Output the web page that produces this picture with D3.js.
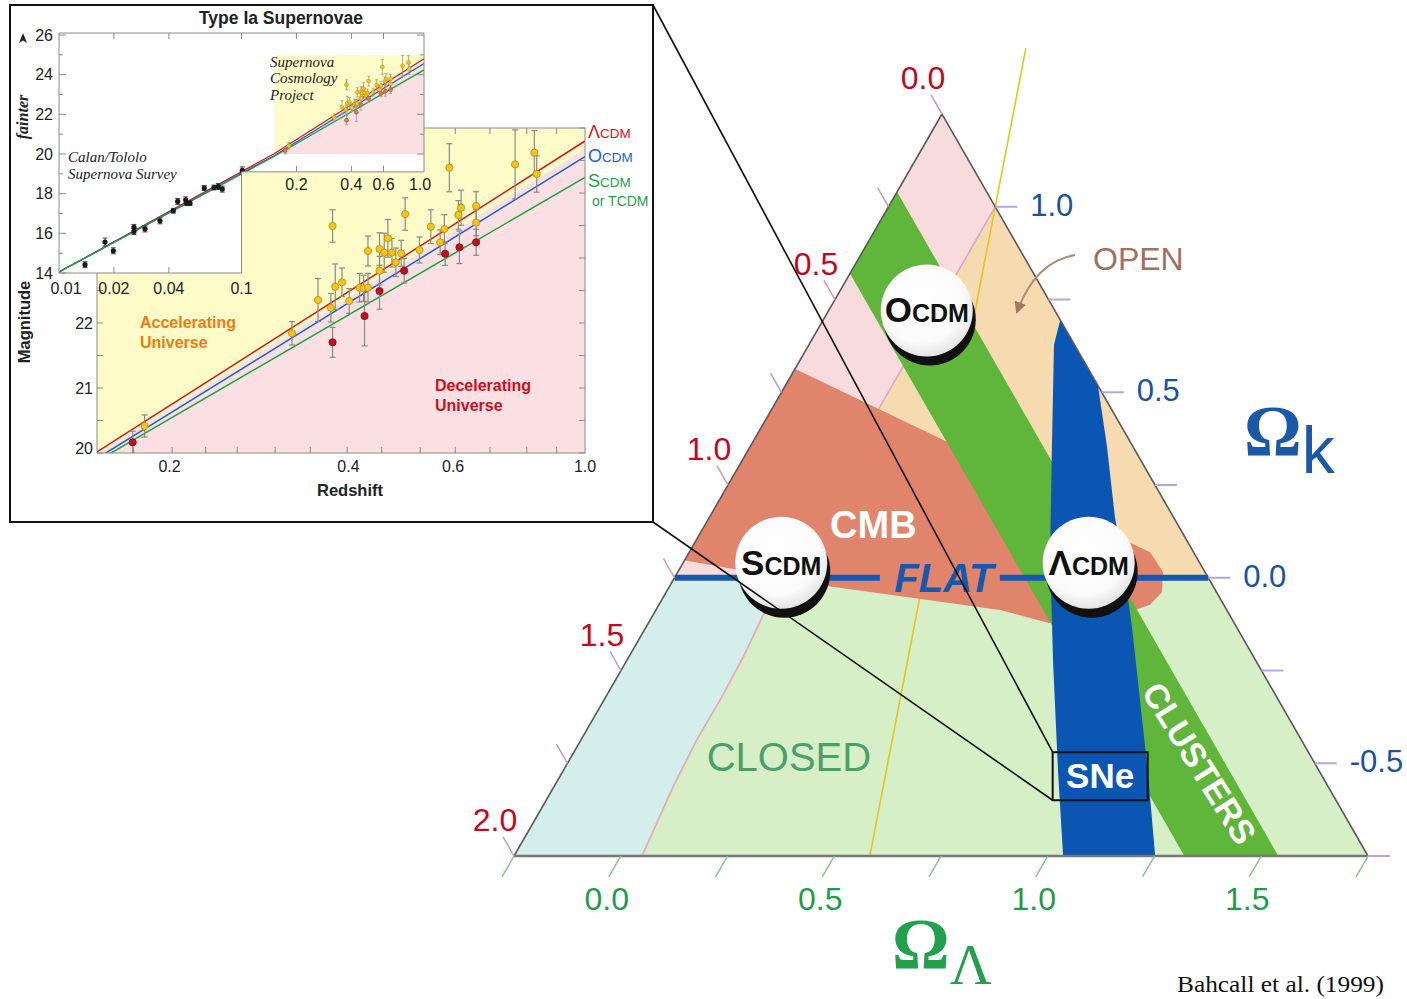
<!DOCTYPE html>
<html>
<head>
<meta charset="utf-8">
<title>Cosmic triangle</title>
<script src="https://cdn.jsdelivr.net/npm/d3@7/dist/d3.min.js"></script>
<style>
  html, body { margin: 0; padding: 0; background: #ffffff; }
  svg { display: block; font-family: "Liberation Sans", Arial, Helvetica, sans-serif; }
</style>
</head>
<body>
<svg id="chart" width="1407" height="999"></svg>
<script>
// ===================== Cosmic triangle data: points are [Ωm, ΩΛ], Ωk = 1 - Ωm - ΩΛ =====================
const omegaMTicks  = [0, 0.25, 0.5, 0.75, 1, 1.25, 1.5, 1.75, 2];
const omegaMLabels = [0, 0.5, 1, 1.5, 2];
const omegaKTicks  = [1, 0.75, 0.5, 0.25, 0, -0.25, -0.5, -0.75];
const omegaKLabels = [1, 0.5, 0, -0.5];
const omegaLTicks  = [-0.25, 0, 0.25, 0.5, 0.75, 1, 1.25, 1.5, 1.75];
const omegaLLabels = [0, 0.5, 1, 1.5];

const modelInitials = ["O", "S", "Λ"];
const modelOmegaM   = [0.32, 1.0, 0.28];
const modelOmegaL   = [0.0, 0.0, 0.72];

const clusterOmegaM = [0.21, 0.43];

const sneRegion = [
  [-0.05, 0.30], [0.0, 0.305], [0.048, 0.324], [0.188, 0.455], [0.34, 0.599], [0.479, 0.753],
  [0.614, 0.912], [0.764, 1.098], [0.545, 1.315], [0.404, 1.123], [0.324, 1.005], [0.245, 0.888],
  [0.171, 0.767], [0.138, 0.701], [0.059, 0.583], [0.0, 0.482], [-0.05, 0.48]
];
const cmbRegion = [
  [0.713, -0.296], [0.4235, 0.214], [0.153, 0.739], [0.102, 0.829], [0.098, 0.886], [0.128, 0.911],
  [0.173, 0.900], [0.257, 0.844], [0.434, 0.688], [0.531, 0.556], [0.904, 0.118], [1.215, -0.265]
];
const recollapseCurve = [
  [1.0, 0.0], [1.092, 0.008], [1.195, 0.018], [1.308, 0.022], [1.416, 0.021],
  [1.534, 0.029], [1.622, 0.040], [1.694, 0.049], [1.75, 0.055]
];
const accelerationLine = [[-0.285, -0.1425], [1.167, 0.5835]];
const flatSegments = [[[1.25, -0.25], [0.769, 0.231]], [[0.488, 0.512], [0.0, 1.0]]];
const openArrow = [[-0.122, 0.252], [-0.02, 0.168], [0.09, 0.193]];

// ===================== Hubble diagram data (redshift z, effective magnitude m_B) =====================
const lowZ   = [0.01388, 0.01787, 0.01984, 0.02576, 0.02576, 0.02960, 0.03575, 0.04229, 0.04471,
                0.04944, 0.05009, 0.05222, 0.06254, 0.07068, 0.07461, 0.07847, 0.1010];
const lowMag = [14.42, 15.56, 15.12, 16.09, 16.30, 16.22, 16.63, 17.14, 17.61,
                17.69, 17.52, 17.52, 18.28, 18.31, 18.36, 18.23, 19.17];
const lowErr = [0.15, 0.2, 0.15, 0.15, 0.15, 0.15, 0.15, 0.12, 0.15,
                0.15, 0.12, 0.12, 0.12, 0.12, 0.15, 0.15, 0.18];

const yellowZ   = [0.1816, 0.3214, 0.3761, 0.3555, 0.3737, 0.3800, 0.3901, 0.4012, 0.4176, 0.4241, 0.4314,
                   0.4314, 0.4511, 0.4511, 0.4594, 0.4660, 0.4733, 0.4806, 0.4906, 0.4982, 0.5266, 0.5503,
                   0.5706, 0.5801, 0.5913, 0.6124, 0.6188, 0.6559, 0.6559, 0.7627, 0.8217, 0.8294];
const yellowMag = [20.415, 21.842, 23.492, 22.354, 22.235, 22.558, 22.626, 22.338, 22.543, 22.534, 22.543,
                   23.108, 23.138, 22.805, 23.082, 23.303, 23.082, 22.934, 23.072, 23.677, 23.123, 23.482,
                   23.242, 23.446, 24.389, 23.662, 23.774, 23.800, 23.543, 24.442, 24.620, 24.292];
const yellowErr = [0.17, 0.18, 0.25, 0.33, 0.22, 0.35, 0.22, 0.19, 0.22, 0.20, 0.22,
                   0.23, 0.25, 0.22, 0.30, 0.29, 0.22, 0.22, 0.20, 0.25, 0.20, 0.26,
                   0.19, 0.22, 0.37, 0.22, 0.27, 0.22, 0.20, 0.53, 0.34, 0.28];

const redZ   = [0.1734, 0.3761, 0.4257, 0.4511, 0.4963, 0.5816, 0.6148, 0.6559];
const redMag = [20.165, 21.703, 22.108, 22.492, 22.805, 23.066, 23.165, 23.242];
const redErr = [0.17, 0.23, 0.46, 0.28, 0.19, 0.18, 0.25, 0.20];

const lambdaCDM = [[0.01, 14.05], [0.15, 20.0], [1.0, 24.80]];
const openCDM   = [[0.01, 14.05], [0.15, 19.90], [1.0, 24.56]];
const standardCDM = [[0.01, 14.05], [0.15, 19.86], [1.0, 24.24]];
const coastLine = [[0.15, 19.95], [1.0, 24.68]];

const mainXTicks  = [0.174, 0.202, 0.230, 0.260, 0.301, 0.345, 0.398, 0.455, 0.528, 0.605, 0.692, 0.798, 0.896];
const mainXLabels = [0.2, 0.4, 0.6, 1.0];
const mainYTicks  = [20, 20.5, 21, 21.5, 22, 22.5, 23, 23.5, 24, 24.5, 25];
const mainYLabels = [20, 21, 22];
const smallYTicks  = [14, 15, 16, 17, 18, 19, 20, 21, 22, 23, 24, 25, 26];
const smallYLabels = [14, 16, 18, 20, 22, 24, 26];
const smallLowXLabels  = [0.01, 0.02, 0.04, 0.1];
const smallHighXLabels = [0.2, 0.4, 0.6, 1.0];

// ===================== drawing =====================
const svg = d3.select("#chart");
const defs = svg.append("defs");

// --- ternary projection ---
const apex = [942, 114], baseL = [514, 856], baseR = [1368, 856];
function P(om, ol) {
  const ok = 1 - om - ol;
  const wA = (ok + 0.75) / 2, wR = (ol + 0.25) / 2, wL = 1 - wA - wR;
  return [wA * apex[0] + wL * baseL[0] + wR * baseR[0],
          wA * apex[1] + wL * baseL[1] + wR * baseR[1]];
}
const tline = d3.line().x(d => P(d[0], d[1])[0]).y(d => P(d[0], d[1])[1]);
const corners = [[0, -0.25], [2, -0.25], [0, 1.75]];
defs.append("clipPath").attr("id", "triClip").append("path").attr("d", tline(corners) + "Z");

const grad = defs.append("radialGradient").attr("id", "disc").attr("cx", "45%").attr("cy", "40%").attr("r", "60%");
grad.append("stop").attr("offset", "0%").attr("stop-color", "#ffffff");
grad.append("stop").attr("offset", "75%").attr("stop-color", "#fbfbfb");
grad.append("stop").attr("offset", "100%").attr("stop-color", "#e4e4e4");

defs.append("marker").attr("id", "openHead").attr("viewBox", "0 0 10 10")
  .attr("refX", 8).attr("refY", 5).attr("markerWidth", 6).attr("markerHeight", 6)
  .attr("orient", "auto").attr("markerUnits", "strokeWidth")
  .append("path").attr("d", "M0,0 L10,5 L0,10 Z").attr("fill", "#a57966");

const tri = svg.append("g");

// background universes
const bg = tri.append("g").attr("clip-path", "url(#triClip)");
bg.append("path").attr("d", tline([[0, -0.25], [0, 0], [1, 0], [1.25, -0.25]]) + "Z").attr("fill", "#f8dbdc");
bg.append("path").attr("d", tline([[0, 0], [0, 1], [1, 0]]) + "Z").attr("fill", "#f6dbb0");
bg.append("path").attr("d", tline([[1.25, -0.25], [0, 1], [0, 1.75], [2, -0.25]]) + "Z").attr("fill", "#d6efc6");
bg.append("path").attr("d", tline(recollapseCurve.concat([[2.2, -0.3], [1.3, -0.3]])) + "Z").attr("fill", "#d4eeec");
bg.append("path").attr("d", tline([[0, 0], [1, 0]])).attr("fill", "none").attr("stroke", "#d7aad0").attr("stroke-width", 1.6);
bg.append("path").attr("d", tline(recollapseCurve)).attr("fill", "none").attr("stroke", "#e6acbd").attr("stroke-width", 1.8);

// acceleration boundary (ΩΛ = Ωm/2)
tri.append("path").attr("d", tline(accelerationLine)).attr("fill", "none")
  .attr("stroke", "#e6c61e").attr("stroke-width", 1.6);

// constraints
const cons = tri.append("g").attr("clip-path", "url(#triClip)");
cons.append("path").attr("d", tline(cmbRegion) + "Z").attr("fill", "#e0846c");
const cb = clusterOmegaM;
cons.append("path").attr("d", tline([[cb[0], -0.4], [cb[1], -0.4], [cb[1], 1.9 - cb[1]], [cb[0], 1.9 - cb[0]]]) + "Z")
  .attr("fill", "#5fb63a");
cons.append("path").attr("d", tline(sneRegion) + "Z").attr("fill", "#0b56b2");

// triangle outline
tri.append("path").attr("d", tline(corners) + "Z").attr("fill", "none").attr("stroke", "#5a5a5a").attr("stroke-width", 1.6);
tri.append("path").attr("d", tline([corners[1], corners[2]])).attr("fill", "none").attr("stroke", "#777").attr("stroke-width", 2.6);

// flat line
flatSegments.forEach(s => tri.append("path").attr("d", tline(s)).attr("stroke", "#1657b0")
  .attr("stroke-width", 6).attr("fill", "none"));

// --- ternary axes ---
const axT = tri.append("g");
const dM = [-0.5, -0.866], dL = [-0.5, 0.866];
omegaMTicks.forEach(v => {
  const p = P(v, -0.25);
  axT.append("line").attr("x1", p[0]).attr("y1", p[1]).attr("x2", p[0] + dM[0] * 22).attr("y2", p[1] + dM[1] * 22)
    .attr("stroke", "#c99ab8").attr("stroke-width", 1.5);
});
omegaMLabels.forEach(v => {
  const p = P(v, -0.25);
  axT.append("text").attr("x", p[0] + dM[0] * 42 + 2).attr("y", p[1] + dM[1] * 42).attr("dy", "0.36em")
    .attr("text-anchor", "middle").attr("font-size", 32).attr("fill", "#c3081e").text(v.toFixed(1));
});
omegaKTicks.forEach(v => {
  const p = P(0, 1 - v);
  axT.append("line").attr("x1", p[0]).attr("y1", p[1]).attr("x2", p[0] + 22).attr("y2", p[1])
    .attr("stroke", "#b6a6da").attr("stroke-width", 2);
});
omegaKLabels.forEach(v => {
  const p = P(0, 1 - v);
  axT.append("text").attr("x", p[0] + 35).attr("y", p[1] - 2).attr("dy", "0.36em")
    .attr("font-size", 31).attr("fill", "#1852a3").text(v === 0 ? "0.0" : v.toFixed(1));
});
omegaLTicks.forEach(v => {
  const p = P(1.75 - v, v);
  axT.append("line").attr("x1", p[0]).attr("y1", p[1]).attr("x2", p[0] + dL[0] * 24).attr("y2", p[1] + dL[1] * 24)
    .attr("stroke", "#7fc893").attr("stroke-width", 1.5);
});
omegaLLabels.forEach(v => {
  const p = P(1.75 - v, v);
  axT.append("text").attr("x", p[0] - 14).attr("y", p[1] + 42).attr("dy", "0.36em")
    .attr("text-anchor", "middle").attr("font-size", 32).attr("fill", "#1f9b4b").text(v.toFixed(1));
});

// axis titles
const tk = tri.append("text").attr("x", 1244).attr("y", 455).attr("fill", "#1a58a8");
tk.append("tspan").attr("font-family", "'Liberation Serif','DejaVu Serif',serif").attr("font-weight", "bold").attr("font-size", 72).text("Ω");
tk.append("tspan").attr("font-size", 66).attr("dy", 18).text("k");
const tl = tri.append("text").attr("x", 892).attr("y", 968).attr("fill", "#22a04e");
tl.append("tspan").attr("font-family", "'Liberation Serif','DejaVu Serif',serif").attr("font-weight", "bold").attr("font-size", 72).text("Ω");
tl.append("tspan").attr("font-family", "'Liberation Serif','DejaVu Serif',serif").attr("font-size", 58).attr("dy", 16).text("Λ");

// region labels
const lab = tri.append("g");
let p = P(0.714, 0.145);
lab.append("text").attr("x", p[0]).attr("y", p[1] + 13).attr("text-anchor", "middle").attr("font-size", 38)
  .attr("font-weight", "bold").attr("fill", "#ffffff").text("CMB");
p = P(0.619, 0.381);
lab.append("text").attr("x", p[0]).attr("y", p[1] + 14).attr("text-anchor", "middle").attr("font-size", 40)
  .attr("font-weight", "bold").attr("font-style", "italic").attr("fill", "#1657b0").text("FLAT");
p = P(1.223, 0.26);
lab.append("text").attr("x", p[0]).attr("y", p[1] + 14).attr("text-anchor", "middle").attr("font-size", 40)
  .attr("fill", "#4f9f6c").text("CLOSED");
p = P(0.27, 1.23);
lab.append("text").attr("transform", `translate(${p[0]},${p[1]}) rotate(58)`).attr("y", 12)
  .attr("text-anchor", "middle").attr("font-size", 34).attr("font-weight", "bold").attr("fill", "#ffffff").text("CLUSTERS");
p = P(0.52, 1.015);
lab.append("text").attr("x", p[0]).attr("y", p[1] + 12).attr("text-anchor", "middle").attr("font-size", 35)
  .attr("font-weight", "bold").attr("fill", "#ffffff").text("SNe");
const snBox = { x: p[0] - 47.5, y: p[1] - 24, w: 95, h: 48 };
lab.append("rect").attr("x", snBox.x).attr("y", snBox.y).attr("width", snBox.w).attr("height", snBox.h)
  .attr("fill", "none").attr("stroke", "#111").attr("stroke-width", 2);

// "OPEN" with its arrow
const a0 = P(...openArrow[0]), a1 = P(...openArrow[1]), a2 = P(...openArrow[2]);
lab.append("path").attr("d", `M${a0[0]},${a0[1]} Q${a1[0]},${a1[1]} ${a2[0]},${a2[1]}`)
  .attr("fill", "none").attr("stroke", "#b08a7a").attr("stroke-width", 2).attr("marker-end", "url(#openHead)");
lab.append("text").attr("x", a0[0] + 18).attr("y", a0[1] + 15).attr("font-size", 32).attr("fill", "#a3705d").text("OPEN");

// model discs
modelInitials.forEach((m, i) => {
  const c = P(modelOmegaM[i], modelOmegaL[i]);
  const cx = c[0], cy = c[1] - 15;
  tri.append("circle").attr("cx", cx + 3).attr("cy", cy + 9).attr("r", 46).attr("fill", "#111");
  tri.append("circle").attr("cx", cx).attr("cy", cy).attr("r", 46).attr("fill", "url(#disc)");
  const t = tri.append("text").attr("x", cx).attr("y", cy + 12).attr("text-anchor", "middle")
    .attr("font-weight", "bold").attr("fill", "#111");
  t.append("tspan").attr("font-size", 35).text(m);
  t.append("tspan").attr("font-size", 25).text("CDM");
});

// citation
svg.append("text").attr("x", 1177).attr("y", 992).attr("font-family", "'Liberation Serif','DejaVu Serif',serif")
  .attr("font-size", 24).attr("textLength", 207).attr("lengthAdjust", "spacingAndGlyphs").attr("fill", "#111")
  .text("Bahcall et al. (1999)");

// ===================== Hubble diagram inset =====================
const inset = { x: 10, y: 5, w: 643, h: 517 };
// zoom lines to the SNe box
svg.append("line").attr("x1", inset.x + inset.w).attr("y1", inset.y).attr("x2", snBox.x).attr("y2", snBox.y)
  .attr("stroke", "#111").attr("stroke-width", 1.6);
svg.append("line").attr("x1", inset.x + inset.w).attr("y1", inset.y + inset.h).attr("x2", snBox.x).attr("y2", snBox.y + snBox.h)
  .attr("stroke", "#111").attr("stroke-width", 1.6);

const ins = svg.append("g");
ins.append("rect").attr("x", inset.x).attr("y", inset.y).attr("width", inset.w).attr("height", inset.h)
  .attr("fill", "#ffffff").attr("stroke", "#111").attr("stroke-width", 2);

// --- main panel ---
const xM = d3.scaleLog().domain([0.151, 1.0]).range([97, 585]);
const yM = d3.scaleLinear().domain([20, 25]).range([453, 128]);
const [mx0, mx1] = xM.range(), [my0, my1] = yM.range();
defs.append("clipPath").attr("id", "mainClip").append("rect")
  .attr("x", mx0).attr("y", my1).attr("width", mx1 - mx0).attr("height", my0 - my1);
const mainG = ins.append("g");
const mainC = mainG.append("g").attr("clip-path", "url(#mainClip)");
const lineM = d3.line().x(d => xM(d[0])).y(d => yM(d[1]));
const zD = xM.domain(), mD = yM.domain();
mainC.append("rect").attr("x", mx0).attr("y", my1).attr("width", mx1 - mx0).attr("height", my0 - my1).attr("fill", "#fdfcc9");
mainC.append("path").attr("d", lineM(coastLine.concat([[zD[1], mD[0] - 1], [zD[0] - 0.01, mD[0] - 1]])) + "Z").attr("fill", "#fbe0e3");

const modelSeries = [[lambdaCDM, "#d4141c"], [openCDM, "#1f5fc6"], [standardCDM, "#1fa043"]];
modelSeries.forEach(([s, col]) => mainC.append("path").attr("d", lineM(s)).attr("fill", "none")
  .attr("stroke", col).attr("stroke-width", 1.5));

function errorBars(g, xs, ys, zs, ms, es, cap, col, w) {
  zs.forEach((z, i) => {
    const x = xs(z), ya = ys(ms[i] - es[i]), yb = ys(ms[i] + es[i]);
    g.append("line").attr("x1", x).attr("x2", x).attr("y1", ya).attr("y2", yb).attr("stroke", col).attr("stroke-width", w);
    g.append("line").attr("x1", x - cap).attr("x2", x + cap).attr("y1", ya).attr("y2", ya).attr("stroke", col).attr("stroke-width", w);
    g.append("line").attr("x1", x - cap).attr("x2", x + cap).attr("y1", yb).attr("y2", yb).attr("stroke", col).attr("stroke-width", w);
  });
}
errorBars(mainC, xM, yM, yellowZ, yellowMag, yellowErr, 3, "#8a8a82", 1.2);
errorBars(mainC, xM, yM, redZ, redMag, redErr, 3, "#8a8a82", 1.2);
yellowZ.forEach((z, i) => mainC.append("circle").attr("cx", xM(z)).attr("cy", yM(yellowMag[i])).attr("r", 3.6)
  .attr("fill", "#f4c51c").attr("stroke", "#b48a10").attr("stroke-width", 0.8));
redZ.forEach((z, i) => mainC.append("circle").attr("cx", xM(z)).attr("cy", yM(redMag[i])).attr("r", 3.6)
  .attr("fill", "#c4101c").attr("stroke", "#7a0a10").attr("stroke-width", 0.8));

// frame and ticks
mainG.append("rect").attr("x", mx0).attr("y", my1).attr("width", mx1 - mx0).attr("height", my0 - my1)
  .attr("fill", "none").attr("stroke", "#8a8a8a").attr("stroke-width", 1);
mainXTicks.forEach(z => {
  mainG.append("line").attr("x1", xM(z)).attr("x2", xM(z)).attr("y1", my0).attr("y2", my0 - 6).attr("stroke", "#8a8a8a");
  mainG.append("line").attr("x1", xM(z)).attr("x2", xM(z)).attr("y1", my1).attr("y2", my1 + 6).attr("stroke", "#8a8a8a");
});
mainYTicks.forEach(m => {
  mainG.append("line").attr("x1", mx0).attr("x2", mx0 + 6).attr("y1", yM(m)).attr("y2", yM(m)).attr("stroke", "#8a8a8a");
  mainG.append("line").attr("x1", mx1).attr("x2", mx1 - 6).attr("y1", yM(m)).attr("y2", yM(m)).attr("stroke", "#8a8a8a");
});
mainXLabels.forEach(z => mainG.append("text").attr("x", xM(z)).attr("y", my0 + 19).attr("text-anchor", "middle")
  .attr("font-size", 16).attr("fill", "#222").text(z.toFixed(1)));
mainYLabels.forEach(m => mainG.append("text").attr("x", mx0 - 4).attr("y", Math.min(yM(m), my0 - 5)).attr("dy", "0.36em")
  .attr("text-anchor", "end").attr("font-size", 16).attr("fill", "#222").text(m));

mainG.append("text").attr("x", 350).attr("y", 496).attr("text-anchor", "middle").attr("font-size", 16.5)
  .attr("font-weight", "bold").attr("fill", "#222").text("Redshift");
mainG.append("text").attr("transform", "translate(30,322) rotate(-90)").attr("text-anchor", "middle")
  .attr("font-size", 16.5).attr("font-weight", "bold").attr("fill", "#222").text("Magnitude");

const acc = mainG.append("g").attr("font-size", 16).attr("font-weight", "bold");
acc.append("text").attr("x", 140).attr("y", 328).attr("fill", "#f17a12").text("Accelerating");
acc.append("text").attr("x", 140).attr("y", 348).attr("fill", "#f17a12").text("Universe");
acc.append("text").attr("x", 435).attr("y", 391).attr("fill", "#cc0f1c").text("Decelerating");
acc.append("text").attr("x", 435).attr("y", 411).attr("fill", "#cc0f1c").text("Universe");

// legend
const legendRows = [["Λ", "CDM", "#d4141c", 138], ["O", "CDM", "#1f5fc6", 162], ["S", "CDM", "#1fa043", 187]];
legendRows.forEach(([a, b, col, y]) => {
  const t = mainG.append("text").attr("x", 588).attr("y", y).attr("fill", col);
  t.append("tspan").attr("font-size", 18).text(a);
  t.append("tspan").attr("font-size", 13.5).text(b);
});
mainG.append("text").attr("x", 592).attr("y", 206).attr("fill", "#1fa043").attr("font-size", 14).text("or TCDM");

// --- overview panel ---
const xS = d3.scaleLog().domain([0.01, 1.0]).range([59, 424]);
const yS = d3.scaleLinear().domain([14, 26]).range([273, 35]);
const stepZ = 0.1, stepM = 19.1, topM = 26.1;
const lShape = [[0.01, topM], [1.0, topM], [1.0, stepM], [stepZ, stepM], [stepZ, 14], [0.01, 14]];
const lineS = d3.line().x(d => xS(d[0])).y(d => yS(d[1]));
defs.append("clipPath").attr("id", "smallClip").append("path").attr("d", lineS(lShape) + "Z");
defs.append("clipPath").attr("id", "scpClip").append("rect")
  .attr("x", xS(zD[0])).attr("y", yS(mD[1])).attr("width", xS(zD[1]) - xS(zD[0])).attr("height", yS(mD[0]) - yS(mD[1]));

const sm = ins.append("g");
sm.append("path").attr("d", lineS(lShape) + "Z").attr("fill", "#ffffff");
const scp = sm.append("g").attr("clip-path", "url(#scpClip)");
scp.append("rect").attr("x", xS(zD[0])).attr("y", yS(mD[1])).attr("width", xS(zD[1]) - xS(zD[0]))
  .attr("height", yS(mD[0]) - yS(mD[1])).attr("fill", "#fdfcc9");
scp.append("path").attr("d", lineS(coastLine.concat([[zD[1], mD[0] - 1], [zD[0] - 0.01, mD[0] - 1]])) + "Z").attr("fill", "#fbe0e3");

const smC = sm.append("g").attr("clip-path", "url(#smallClip)");
modelSeries.forEach(([s, col]) => smC.append("path").attr("d", lineS(s)).attr("fill", "none")
  .attr("stroke", col).attr("stroke-width", 1.3));
errorBars(smC, xS, yS, yellowZ, yellowMag, yellowErr, 1.5, "#9a9a90", 0.8);
errorBars(smC, xS, yS, redZ, redMag, redErr, 1.5, "#9a9a90", 0.8);
yellowZ.forEach((z, i) => smC.append("circle").attr("cx", xS(z)).attr("cy", yS(yellowMag[i])).attr("r", 2)
  .attr("fill", "#f2c423").attr("stroke", "#b48a10").attr("stroke-width", 0.5));
redZ.forEach((z, i) => smC.append("circle").attr("cx", xS(z)).attr("cy", yS(redMag[i])).attr("r", 2)
  .attr("fill", "#e07a4a").attr("stroke", "#a04020").attr("stroke-width", 0.5));
errorBars(smC, xS, yS, lowZ, lowMag, lowErr, 2.5, "#444", 1);
lowZ.forEach((z, i) => smC.append("circle").attr("cx", xS(z)).attr("cy", yS(lowMag[i])).attr("r", 2.6).attr("fill", "#1a1a1a"));

sm.append("path").attr("d", lineS(lShape) + "Z").attr("fill", "none").attr("stroke", "#8a8a8a").attr("stroke-width", 1);
smallYTicks.forEach(m => {
  const len = smallYLabels.includes(m) ? 7 : 4;
  sm.append("line").attr("x1", xS(0.01)).attr("x2", xS(0.01) + len).attr("y1", yS(m)).attr("y2", yS(m)).attr("stroke", "#8a8a8a");
  if (m >= stepM) sm.append("line").attr("x1", xS(1)).attr("x2", xS(1) - len).attr("y1", yS(m)).attr("y2", yS(m)).attr("stroke", "#8a8a8a");
});
smallYLabels.forEach(m => sm.append("text").attr("x", 53).attr("y", yS(m)).attr("dy", "0.36em")
  .attr("text-anchor", "end").attr("font-size", 16).attr("fill", "#222").text(m));
[0.02, 0.04].forEach(z => {
  sm.append("line").attr("x1", xS(z)).attr("x2", xS(z)).attr("y1", yS(14)).attr("y2", yS(14) - 6).attr("stroke", "#8a8a8a");
});
[0.02, 0.04, 0.1, 0.2, 0.4, 0.6].forEach(z => {
  sm.append("line").attr("x1", xS(z)).attr("x2", xS(z)).attr("y1", yS(topM)).attr("y2", yS(topM) + 6).attr("stroke", "#8a8a8a");
});
[0.2, 0.4, 0.6].forEach(z => {
  sm.append("line").attr("x1", xS(z)).attr("x2", xS(z)).attr("y1", yS(stepM)).attr("y2", yS(stepM) - 6).attr("stroke", "#8a8a8a");
});
smallLowXLabels.forEach((z, i) => sm.append("text").attr("x", xS(z) + (i === 0 ? 7 : 0)).attr("y", yS(14) + 21)
  .attr("text-anchor", "middle").attr("font-size", 16).attr("fill", "#222").text(z));
smallHighXLabels.forEach((z, i) => sm.append("text").attr("x", xS(z) - (i === smallHighXLabels.length - 1 ? 4 : 0))
  .attr("y", yS(stepM) + 18).attr("text-anchor", "middle").attr("font-size", 16).attr("fill", "#222").text(z.toFixed(1)));

const serif = "'Liberation Serif','DejaVu Serif',serif";
const notes = [["Calan/Tololo", 68, 162], ["Supernova Survey", 68, 179], ["Supernova", 270, 67], ["Cosmology", 270, 83], ["Project", 270, 100]];
notes.forEach(([t, x, y]) => sm.append("text").attr("x", x).attr("y", y).attr("font-family", serif)
  .attr("font-style", "italic").attr("font-size", 15).attr("fill", "#222").text(t));
sm.append("text").attr("transform", "translate(28,117) rotate(-90)").attr("text-anchor", "middle")
  .attr("font-family", serif).attr("font-style", "italic").attr("font-weight", "bold").attr("font-size", 16)
  .attr("fill", "#222").text("fainter");
sm.append("path").attr("d", "M23,33 L27,43 L23,40.5 L19,43 Z").attr("fill", "#222");

ins.append("text").attr("x", 281).attr("y", 24).attr("text-anchor", "middle").attr("font-size", 17.5)
  .attr("font-weight", "bold").attr("fill", "#222").text("Type Ia Supernovae");
</script>
</body>
</html>
